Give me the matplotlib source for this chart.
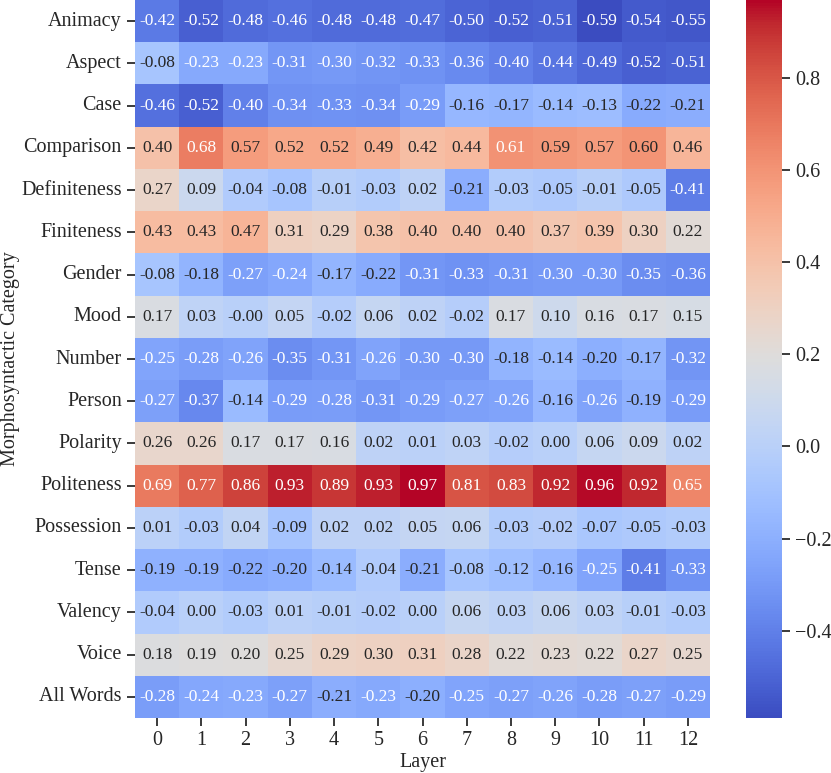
import numpy as np
import matplotlib
matplotlib.use("Agg")
import matplotlib.pyplot as plt
import seaborn as sns
import pandas as pd

categories = ["Animacy", "Aspect", "Case", "Comparison", "Definiteness", "Finiteness",
              "Gender", "Mood", "Number", "Person", "Polarity", "Politeness",
              "Possession", "Tense", "Valency", "Voice", "All Words"]
layers = [str(i) for i in range(13)]

animacy = [-0.42, -0.52, -0.48, -0.46, -0.48, -0.48, -0.47, -0.50, -0.52, -0.51, -0.59, -0.54, -0.55]
aspect = [-0.08, -0.23, -0.23, -0.31, -0.30, -0.32, -0.33, -0.36, -0.40, -0.44, -0.49, -0.52, -0.51]
case = [-0.46, -0.52, -0.40, -0.34, -0.33, -0.34, -0.29, -0.16, -0.17, -0.14, -0.13, -0.22, -0.21]
comparison = [0.40, 0.68, 0.57, 0.52, 0.52, 0.49, 0.42, 0.44, 0.61, 0.59, 0.57, 0.60, 0.46]
definiteness = [0.27, 0.09, -0.04, -0.08, -0.01, -0.03, 0.02, -0.21, -0.03, -0.05, -0.01, -0.05, -0.41]
finiteness = [0.43, 0.43, 0.47, 0.31, 0.29, 0.38, 0.40, 0.40, 0.40, 0.37, 0.39, 0.30, 0.22]
gender = [-0.08, -0.18, -0.27, -0.24, -0.17, -0.22, -0.31, -0.33, -0.31, -0.30, -0.30, -0.35, -0.36]
mood = [0.17, 0.03, -0.001, 0.05, -0.02, 0.06, 0.02, -0.02, 0.17, 0.10, 0.16, 0.17, 0.15]
number = [-0.25, -0.28, -0.26, -0.35, -0.31, -0.26, -0.30, -0.30, -0.18, -0.14, -0.20, -0.17, -0.32]
person = [-0.27, -0.37, -0.14, -0.29, -0.28, -0.31, -0.29, -0.27, -0.26, -0.16, -0.26, -0.19, -0.29]
polarity = [0.26, 0.26, 0.17, 0.17, 0.16, 0.02, 0.01, 0.03, -0.02, 0.00, 0.06, 0.09, 0.02]
politeness = [0.69, 0.77, 0.86, 0.93, 0.89, 0.93, 0.97, 0.81, 0.83, 0.92, 0.96, 0.92, 0.65]
possession = [0.01, -0.03, 0.04, -0.09, 0.02, 0.02, 0.05, 0.06, -0.03, -0.02, -0.07, -0.05, -0.03]
tense = [-0.19, -0.19, -0.22, -0.20, -0.14, -0.04, -0.21, -0.08, -0.12, -0.16, -0.25, -0.41, -0.33]
valency = [-0.04, 0.00, -0.03, 0.01, -0.01, -0.02, 0.00, 0.06, 0.03, 0.06, 0.03, -0.01, -0.03]
voice = [0.18, 0.19, 0.20, 0.25, 0.29, 0.30, 0.31, 0.28, 0.22, 0.23, 0.22, 0.27, 0.25]
all_words = [-0.28, -0.24, -0.23, -0.27, -0.21, -0.23, -0.20, -0.25, -0.27, -0.26, -0.28, -0.27, -0.29]

rows = [animacy, aspect, case, comparison, definiteness, finiteness, gender, mood,
        number, person, polarity, politeness, possession, tense, valency, voice, all_words]
df = pd.DataFrame(rows, index=categories, columns=layers)

sns.set_theme(style="ticks")
plt.rcParams['font.family'] = ['Liberation Serif', 'DejaVu Serif']
plt.rcParams['mathtext.fontset'] = 'stix'

fig = plt.figure(figsize=(8.31, 7.73), dpi=100)
W, H = 831, 773
ax = fig.add_axes([135 / W, (H - 718) / H, (710 - 135) / W, 718 / H])
cax = fig.add_axes([746 / W, (H - 718) / H, (782 - 746) / W, 718 / H])

sns.heatmap(df, ax=ax, cbar_ax=cax, cmap="coolwarm", annot=True, fmt=".2f",
            annot_kws={"size": 12.5})

ax.set_xlabel("Layer", fontsize=14.5, labelpad=2)
ax.set_ylabel("Morphosyntactic Category", fontsize=14.5)
ax.yaxis.set_label_coords(-0.2, 0.5)
ax.tick_params(axis='both', labelsize=14.5, length=6, width=1.25, color='#222222')
ax.set_yticklabels(categories, rotation=0)
ax.set_xticklabels(layers, rotation=0)
cax.tick_params(labelsize=14.5, length=6, width=1.25, color='#222222')
cax.set_yticks([-0.4, -0.2, 0.0, 0.2, 0.4, 0.6, 0.8])

fig.savefig("out.png", dpi=100)
